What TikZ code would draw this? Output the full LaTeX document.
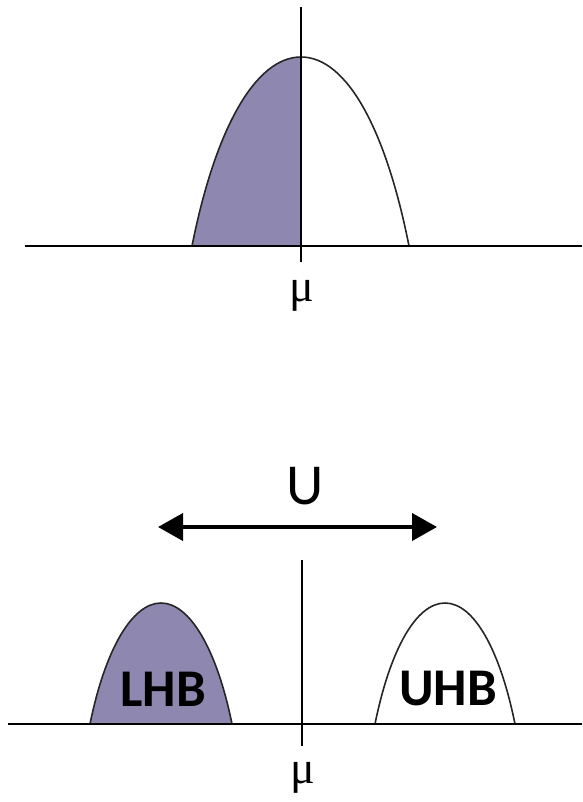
\documentclass[tikz,border=0pt]{standalone}
\usepackage{fontspec}
\setmainfont{Carlito}
\newfontfamily\mufont{Liberation Serif}
\usetikzlibrary{arrows.meta}
\definecolor{bandfill}{RGB}{142,135,176}
\tikzset{
  axisline/.style={line width=1.5pt, black},
  muline/.style={line width=1.8pt, black},
  bandline/.style={line width=1.6pt, black!85},
  bandlabel/.style={font=\fontsize{53}{53}\selectfont\bfseries, inner sep=0pt},
  mulabel/.style={font=\mufont\fontsize{46}{46}\selectfont, inner sep=0pt},
  ulabel/.style={font=\fontsize{58}{58}\selectfont, inner sep=0pt},
  gaparrow/.style={line width=4pt, {Triangle[length=25pt,width=27pt]}-{Triangle[length=25pt,width=27pt]}}
}
\begin{document}
\begin{tikzpicture}[x=1pt,y=-1pt]
\useasboundingbox (0,0) rectangle (582,802);
% ---------- top: metal ----------
\fill[bandfill] (192,246) .. controls (215,130) and (255,57) .. (301,57) -- (301,246) -- cycle;
\draw[bandline] (192,246) .. controls (215,130) and (255,57) .. (301,57)
   .. controls (347,57) and (386,130) .. (409,246);
\draw[axisline] (25,246) -- (582,246);
\draw[muline] (301,7) -- (301,262);
\node[mulabel] (mutop) at (302,296) {μ};
% ---------- bottom: Mott insulator ----------
\fill[bandfill] (90,724) .. controls (105,650) and (132,603) .. (161,603)
   .. controls (190,603) and (217,650) .. (232,724) -- cycle;
\draw[bandline] (90,724) .. controls (105,650) and (132,603) .. (161,603)
   .. controls (190,603) and (217,650) .. (232,724);
\draw[bandline] (375,724) .. controls (390,650) and (416,603) .. (445,603)
   .. controls (474,603) and (500,650) .. (515,724);
\draw[axisline] (8,724) -- (582,724);
\draw[muline] (302,560) -- (302,746);
\node[mulabel] (mubot) at (303,778) {μ};
\node[bandlabel] (lhb) at (163,689) {LHB};
\node[bandlabel] (uhb) at (448,689) {UHB};
% ---------- Hubbard U ----------
\node[ulabel] (ulab) at (305,486) {U};
\coordinate (aleft) at (158,527);
\coordinate (aright) at (437,527);
\draw[gaparrow] (aleft) -- (aright);
\end{tikzpicture}
\end{document}
